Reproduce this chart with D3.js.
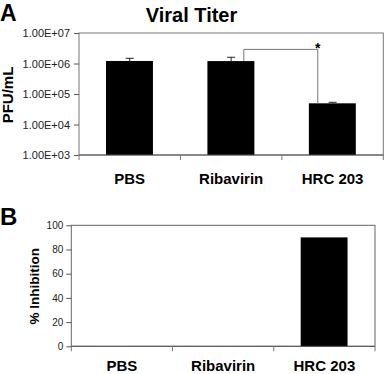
<!DOCTYPE html>
<html>
<head>
<meta charset="utf-8">
<script src="https://cdn.jsdelivr.net/npm/d3@7"></script>
<style>
  body { margin: 0; background: #fff; }
  svg { display: block; font-family: "Liberation Sans", Arial, sans-serif; }
  .axis path, .axis line { stroke: #555; }
  .axis text { fill: #222; }
</style>
</head>
<body>
<div id="chart"></div>
<script>
// data
var categories = ["PBS", "Ribavirin", "HRC 203"];
var titerMean = [1.21e6, 1.2e6, 4.95e4];
var titerUpper = [1.48e6, 1.6e6, 5.35e4];
var titerTicks = [1e3, 1e4, 1e5, 1e6, 1e7];
var inhibition = [0, 0, 90];
var inhibitionTicks = [0, 20, 40, 60, 80, 100];
// significance bracket: Ribavirin vs HRC 203
var bracketPair = ["Ribavirin", "HRC 203"];
var bracketTop = 2.9e6;

var width = 384, height = 374;

var svg = d3.select("#chart").append("svg")
    .attr("width", width)
    .attr("height", height);

// ---------- panel A ----------
var boxA = {left: 79, right: 383.3, top: 33, bottom: 155};

var xA = d3.scaleBand()
    .domain(categories)
    .range([boxA.left, boxA.right]);

var yA = d3.scaleLog()
    .domain([1e3, 1e7])
    .range([boxA.bottom, boxA.top]);

var gA = svg.append("g");

// frame
gA.append("rect")
    .attr("x", boxA.left)
    .attr("y", boxA.top)
    .attr("width", boxA.right - boxA.left)
    .attr("height", boxA.bottom - boxA.top)
    .attr("fill", "none")
    .attr("stroke", "#777");

var barsA = categories.map(function(c, i) {
    return {cat: c, mean: titerMean[i], upper: titerUpper[i]};
});

gA.selectAll(".barA")
    .data(barsA)
    .enter().append("rect")
    .attr("class", "barA")
    .attr("x", function(d) { return xA(d.cat) + xA.bandwidth() * 0.266; })
    .attr("width", xA.bandwidth() * 0.463)
    .attr("y", function(d) { return yA(d.mean); })
    .attr("height", function(d) { return boxA.bottom - yA(d.mean); })
    .attr("fill", "#000");

// error bars
var err = gA.selectAll(".err")
    .data(barsA)
    .enter().append("g")
    .attr("class", "err")
    .attr("stroke", "#222");

err.append("line")
    .attr("x1", function(d) { return xA(d.cat) + xA.bandwidth() / 2; })
    .attr("x2", function(d) { return xA(d.cat) + xA.bandwidth() / 2; })
    .attr("y1", function(d) { return yA(d.mean); })
    .attr("y2", function(d) { return yA(d.upper); });

err.append("line")
    .attr("x1", function(d) { return xA(d.cat) + xA.bandwidth() / 2 - 4; })
    .attr("x2", function(d) { return xA(d.cat) + xA.bandwidth() / 2 + 4; })
    .attr("y1", function(d) { return yA(d.upper); })
    .attr("y2", function(d) { return yA(d.upper); });

// significance bracket
var bx1 = xA(bracketPair[0]) + xA.bandwidth() * 0.625;
var bx2 = xA(bracketPair[1]) + xA.bandwidth() * 0.354;
var by1 = yA(titerMean[categories.indexOf(bracketPair[0])]);
var by2 = yA(titerMean[categories.indexOf(bracketPair[1])]);
var byTop = yA(bracketTop);

gA.append("path")
    .attr("d", "M" + bx1 + "," + by1 + "V" + byTop + "H" + bx2 + "V" + by2)
    .attr("fill", "none")
    .attr("stroke", "#777");

gA.append("text")
    .attr("x", bx2)
    .attr("y", byTop + 3.5)
    .attr("text-anchor", "middle")
    .style("font-size", "14px")
    .style("font-weight", "bold")
    .text("*");

// y axis
gA.append("g")
    .attr("class", "axis")
    .attr("transform", "translate(" + boxA.left + ",0)")
    .call(d3.axisLeft(yA)
        .tickValues(titerTicks)
        .tickSize(5)
        .tickPadding(4)
        .tickFormat(function(d) {
            var e = Math.round(Math.log10(d));
            return "1.00E+" + (e < 10 ? "0" : "") + e;
        }))
    .call(function(g) { g.select(".domain").remove(); })
    .selectAll("text")
    .style("font-size", "11px");

// x axis line and boundary ticks
gA.append("line")
    .attr("x1", boxA.left).attr("x2", boxA.right)
    .attr("y1", boxA.bottom).attr("y2", boxA.bottom)
    .attr("stroke", "#555");

gA.selectAll(".xtickA")
    .data(categories.concat(["end"]))
    .enter().append("line")
    .attr("class", "xtickA")
    .attr("x1", function(d) { return d === "end" ? boxA.right : xA(d); })
    .attr("x2", function(d) { return d === "end" ? boxA.right : xA(d); })
    .attr("y1", boxA.bottom)
    .attr("y2", boxA.bottom + 5)
    .attr("stroke", "#777");

gA.selectAll(".catA")
    .data(categories)
    .enter().append("text")
    .attr("class", "catA")
    .attr("x", function(d) { return xA(d) + xA.bandwidth() / 2; })
    .attr("y", 183.5)
    .attr("text-anchor", "middle")
    .style("font-size", "15px")
    .style("font-weight", "bold")
    .text(function(d) { return d; });

gA.append("text")
    .attr("transform", "translate(13.3," + ((boxA.top + boxA.bottom) / 2 + 1) + ") rotate(-90)")
    .attr("text-anchor", "middle")
    .style("font-size", "15px")
    .style("font-weight", "bold")
    .text("PFU/mL");

gA.append("text")
    .attr("x", 191.5)
    .attr("y", 22)
    .attr("text-anchor", "middle")
    .style("font-size", "20px")
    .style("font-weight", "bold")
    .text("Viral Titer");

gA.append("text")
    .attr("x", 0)
    .attr("y", 21)
    .style("font-size", "23px")
    .style("font-weight", "bold")
    .text("A");

// ---------- panel B ----------
var boxB = {left: 71.3, right: 375, top: 225.3, bottom: 346.3};

var xB = d3.scaleBand()
    .domain(categories)
    .range([boxB.left, boxB.right]);

var yB = d3.scaleLinear()
    .domain([0, 100])
    .range([boxB.bottom, boxB.top]);

var gB = svg.append("g");

gB.append("rect")
    .attr("x", boxB.left)
    .attr("y", boxB.top)
    .attr("width", boxB.right - boxB.left)
    .attr("height", boxB.bottom - boxB.top)
    .attr("fill", "none")
    .attr("stroke", "#666");

var barsB = categories.map(function(c, i) {
    return {cat: c, value: inhibition[i]};
});

gB.selectAll(".barB")
    .data(barsB)
    .enter().append("rect")
    .attr("class", "barB")
    .attr("x", function(d) { return xB(d.cat) + xB.bandwidth() * 0.266; })
    .attr("width", xB.bandwidth() * 0.463)
    .attr("y", function(d) { return yB(d.value); })
    .attr("height", function(d) { return boxB.bottom - yB(d.value); })
    .attr("fill", "#000");

gB.append("g")
    .attr("class", "axis")
    .attr("transform", "translate(" + boxB.left + ",0)")
    .call(d3.axisLeft(yB)
        .tickValues(inhibitionTicks)
        .tickSize(5)
        .tickPadding(3))
    .call(function(g) { g.select(".domain").remove(); })
    .selectAll("text")
    .style("font-size", "10px");

gB.append("line")
    .attr("x1", boxB.left).attr("x2", boxB.right)
    .attr("y1", boxB.bottom).attr("y2", boxB.bottom)
    .attr("stroke", "#555");

gB.selectAll(".xtickB")
    .data(categories.concat(["end"]))
    .enter().append("line")
    .attr("class", "xtickB")
    .attr("x1", function(d) { return d === "end" ? boxB.right : xB(d); })
    .attr("x2", function(d) { return d === "end" ? boxB.right : xB(d); })
    .attr("y1", boxB.bottom)
    .attr("y2", boxB.bottom + 5)
    .attr("stroke", "#777");

gB.selectAll(".catB")
    .data(categories)
    .enter().append("text")
    .attr("class", "catB")
    .attr("x", function(d) { return xB(d) + xB.bandwidth() / 2; })
    .attr("y", 370.5)
    .attr("text-anchor", "middle")
    .style("font-size", "15px")
    .style("font-weight", "bold")
    .text(function(d) { return d; });

gB.append("text")
    .attr("transform", "translate(38.5," + ((boxB.top + boxB.bottom) / 2 + 0.5) + ") rotate(-90)")
    .attr("text-anchor", "middle")
    .style("font-size", "13.5px")
    .style("font-weight", "bold")
    .text("% Inhibition");

gB.append("text")
    .attr("x", 0)
    .attr("y", 225)
    .style("font-size", "24px")
    .style("font-weight", "bold")
    .text("B");
</script>
</body>
</html>
